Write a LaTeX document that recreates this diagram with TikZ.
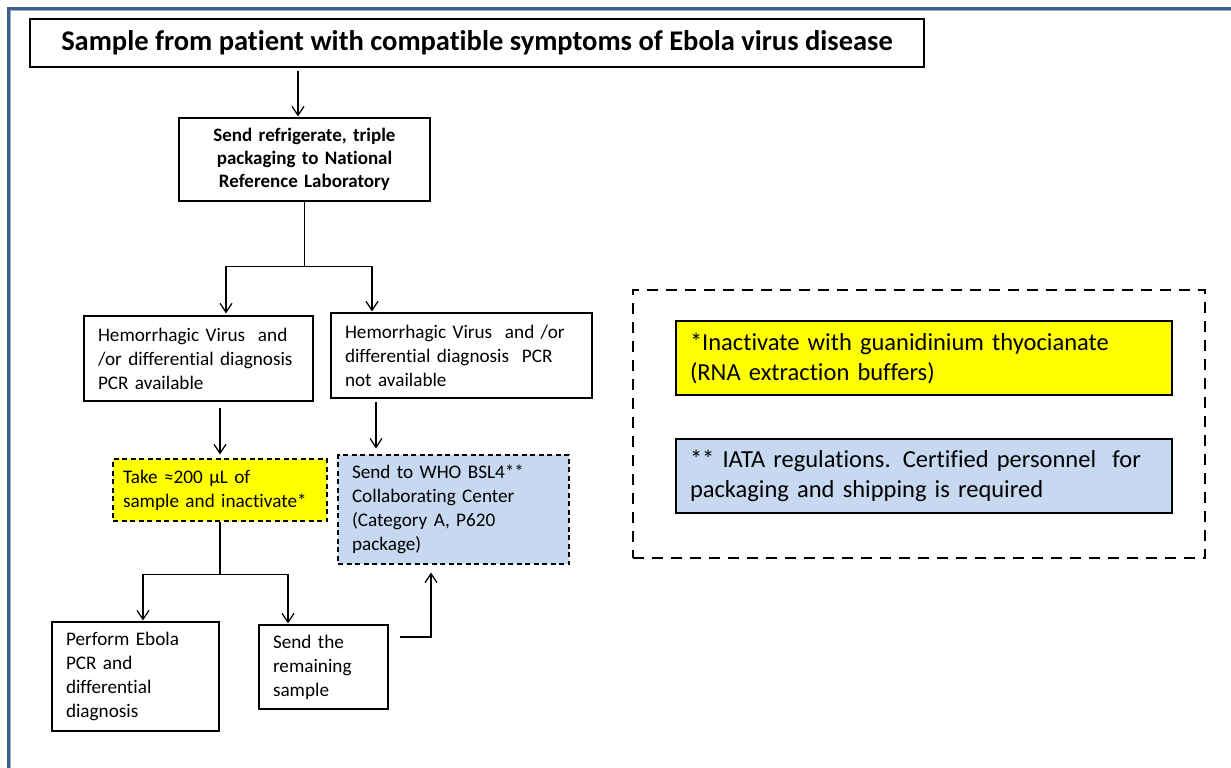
\documentclass[tikz,border=0pt]{standalone}
\usepackage{fontspec}
\setmainfont{Carlito}[Ligatures=NoCommon]
\usetikzlibrary{positioning,arrows.meta}

\hyphenpenalty=10000
\exhyphenpenalty=10000

\definecolor{framebl}{RGB}{59,94,140}
\definecolor{framelt}{RGB}{150,172,200}
\definecolor{noteyel}{RGB}{255,255,0}
\definecolor{noteblue}{RGB}{198,217,241}

\tikzset{
  box/.style={draw, line width=1.2pt, inner xsep=14pt, inner ysep=0pt, align=left,
    font=\fontsize{19.2}{24}\selectfont},
  hint/.style={box, dash pattern=on 5pt off 3.5pt},
  note/.style={box, line width=1.5pt, font=\fontsize{24.5}{30}\selectfont},
}

\begin{document}
\begin{tikzpicture}[x=1pt,y=-1pt,on grid,line width=1.2pt,
    >={Straight Barb[length=9pt,width=12pt]}]
  \useasboundingbox (0,0) rectangle (1231,768);
  % frame
  \draw[framebl,line width=3pt] (8.5,780) -- (8.5,8.5) -- (1240,8.5);
  \draw[framelt,line width=1pt] (10.5,780) -- (10.5,10.5) -- (1240,10.5);

  \node[draw,minimum width=894pt,minimum height=48pt,inner sep=0pt,
        font=\bfseries\fontsize{28.5}{34}\selectfont] (title) at (477,43)
        {Sample from patient with compatible symptoms of Ebola virus disease};
  \node[box,align=center,text width=223pt,minimum height=83pt,
        font=\bfseries\fontsize{19}{23}\selectfont] (send) [below left=116.5pt and 172.5pt of title]
        {Send refrigerate, triple\\packaging to National\\Reference Laboratory};
  \node[box,text width=201pt,minimum height=85pt] (avail) [below left=199pt and 106pt of send]
        {Hemorrhagic Virus~ and\\/or differential diagnosis\\PCR available};
  \node[box,text width=233pt,minimum height=85pt] (notavail) [below right=196pt and 157pt of send]
        {Hemorrhagic Virus~ and /or\\differential diagnosis~ PCR\\not available};
  \node[hint,fill=noteyel,inner xsep=10pt,text width=194pt,minimum height=62pt] (take) [below right=131.5pt and 21.5pt of avail]
        {Take ≈200 µL of\\sample and inactivate*};
  \node[hint,fill=noteblue,text width=203pt,minimum height=109pt] (who) [below left=154pt and 8pt of notavail]
        {Send to WHO BSL4**\\Collaborating Center\\(Category A, P620\\package)};
  \node[box,text width=139pt,minimum height=109pt] (perform) [below left=186.5pt and 84.5pt of take]
        {Perform Ebola\\PCR and\\differential\\diagnosis};
  \node[box,text width=101pt,minimum height=84pt] (remain) [below right=177pt and 103.5pt of take]
        {Send the\\remaining\\sample};

  % legend
  \node[draw,line width=2.6pt,dash pattern=on 11pt off 8pt,minimum width=572pt,minimum height=268pt] (legend) at (919,424) {};
  \node[note,fill=noteyel,text width=468pt,minimum height=74pt] (inact) [above right=66pt and 5pt of legend]
        {*Inactivate with guanidinium thyocianate\\(RNA extraction buffers)};
  \node[note,fill=noteblue,text width=468pt,minimum height=74pt] (iata) [below=118pt of inact]
        {** IATA regulations. Certified personnel~ for\\packaging and shipping is required};

  \coordinate[below=65pt of send.south] (fork1);
  \coordinate[below=53pt of take.south] (fork2);

  \draw[->,shorten <=3pt,shorten >=1pt] ([xshift=-6.5pt]send.north |- title.south) -- ([xshift=-6.5pt]send.north);
  \draw (send.south) -- (fork1);
  \draw[->,shorten >=2pt] (fork1) -| ([xshift=27.5pt]avail.north);
  \draw[->,shorten >=1pt] (fork1) -| ([xshift=-89.5pt]notavail.north);
  \draw[->,shorten <=6pt,shorten >=4pt] (take.north |- avail.south) -- (take.north);
  \draw[->,shorten <=3pt,shorten >=6pt] ([xshift=-85.5pt]notavail.south) -- ([xshift=-85.5pt]notavail.south |- who.north);
  \draw (take.south) -- (fork2);
  \draw[->,shorten >=1pt] (fork2) -| ([xshift=7.5pt]perform.north);
  \draw[->,shorten >=1pt] (fork2) -| ([xshift=-35.5pt]remain.north);
  \draw[->,shorten <=11pt,shorten >=8pt] ([yshift=30pt]remain.east) -| ([xshift=-22.5pt]who.south);
\end{tikzpicture}
\end{document}
